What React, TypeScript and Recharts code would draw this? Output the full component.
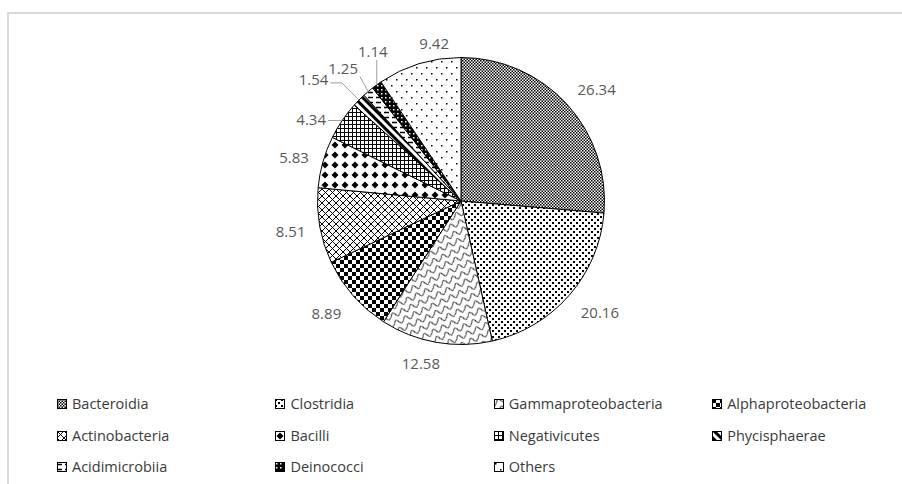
import React from 'react';
import { PieChart, Pie, Cell, Legend } from 'recharts';

const classes = [
  'Bacteroidia',
  'Clostridia',
  'Gammaproteobacteria',
  'Alphaproteobacteria',
  'Actinobacteria',
  'Bacilli',
  'Negativicutes',
  'Phycisphaerae',
  'Acidimicrobiia',
  'Deinococci',
  'Others',
];

const abundance = [26.34, 20.16, 12.58, 8.89, 8.51, 5.83, 4.34, 1.54, 1.25, 1.14, 9.42];

const data = classes.map((name, i) => ({ name, value: abundance[i] }));

const RAD = Math.PI / 180;
const LABEL_FONT = '"Open Sans", sans-serif';

// small angle / radius shifts so the outside labels sit like a best-fit layout
const labelShift: [number, number][] = [
  [3, 1.5], [-2.6, 3], [3.9, -8], [1.6, 0.5], [0, -1.5], [-1.2, -2],
  [-5.3, -3.5], [-5.1, 17], [-1.2, 3.5], [5.5, -0.5], [7.3, -14.5],
];

// theta measured clockwise from 12 o'clock
const polar = (cx: number, cy: number, r: number, theta: number) => ({
  x: cx + r * Math.sin(theta * RAD),
  y: cy - r * Math.cos(theta * RAD),
});

const textWidth = (s: string) =>
  s.split('').reduce((w, ch) => w + (ch === '.' ? 4 : 8.58), 0);

const renderLabel = (props: any) => {
  const { cx, cy, midAngle, outerRadius, index, value, percent } = props;
  const theta = 90 - midAngle;
  const [da, dr] = labelShift[index] || [0, 0];
  const p = polar(cx, cy, outerRadius + 31 + dr, theta + da);
  const text = Number(value).toFixed(2);

  let leader: React.ReactNode = null;
  if (percent < 0.05) {
    const e = polar(cx, cy, outerRadius, theta);
    const w = textWidth(text);
    const left = p.x - w / 2 - 2;
    const right = p.x + w / 2 + 2;
    const top = p.y - 9;
    const bottom = p.y + 9;
    let pts: { x: number; y: number }[];
    if (e.y >= top && e.y <= bottom) {
      pts = [{ x: e.x > p.x ? right : left, y: e.y }, e];
    } else if (e.x >= left && e.x <= right) {
      pts = [{ x: e.x, y: e.y > p.y ? bottom : top }, e];
    } else {
      const corner = { x: e.x > p.x ? right : left, y: e.y > p.y ? bottom : top };
      const dx = Math.abs(e.x - corner.x);
      const dy = Math.abs(e.y - corner.y);
      if (dx > dy) {
        const ey = p.y + 4;
        const elbow = { x: e.x - Math.sign(e.x - p.x) * Math.abs(e.y - ey), y: ey };
        pts = [{ x: corner.x, y: ey }, elbow, e];
      } else {
        pts = [corner, e];
      }
    }
    leader = (
      <polyline
        points={pts.map((q) => `${q.x},${q.y}`).join(' ')}
        fill="none"
        stroke="#a0a0a0"
        strokeWidth={1}
      />
    );
  }

  return (
    <g key={`lbl-${index}`}>
      {leader}
      <text
        x={p.x}
        y={p.y}
        textAnchor="middle"
        dominantBaseline="central"
        fill="#595959"
        fontFamily={LABEL_FONT}
        fontSize={15}
      >
        {text}
      </text>
    </g>
  );
};

// black & white fill patterns, one per class
const Patterns = () => (
  <svg width={0} height={0} style={{ position: 'absolute' }}>
    <defs>
      <pattern id="pat-0" width="3" height="3" patternUnits="userSpaceOnUse">
        <rect width="3" height="3" fill="#fff" />
        <rect width="1.5" height="1.5" fill="#000" />
        <rect x="1.5" y="1.5" width="1.5" height="1.5" fill="#000" />
      </pattern>
      <pattern id="pat-1" width="6" height="6" patternUnits="userSpaceOnUse">
        <rect width="6" height="6" fill="#fff" />
        <rect width="2" height="2" fill="#000" />
        <rect x="3" y="3" width="2" height="2" fill="#000" />
      </pattern>
      <pattern id="pat-2" width="10" height="8" patternUnits="userSpaceOnUse" patternTransform="rotate(-25)">
        <rect width="10" height="8" fill="#fff" />
        <path d="M0 5 C1.5 5 1.5 1.5 3.5 1.5 C5.5 1.5 5.5 6.5 7.5 6.5 C9 6.5 9 5 10 5" fill="none" stroke="#000" strokeWidth="1" />
      </pattern>
      <pattern id="pat-3" width="8" height="8" patternUnits="userSpaceOnUse">
        <rect width="8" height="8" fill="#fff" />
        <rect width="4" height="4" fill="#000" />
        <rect x="4" y="4" width="4" height="4" fill="#000" />
      </pattern>
      <pattern id="pat-4" width="7" height="7" patternUnits="userSpaceOnUse">
        <rect width="7" height="7" fill="#fff" />
        <path d="M0 0L7 7M7 0L0 7" stroke="#000" strokeWidth="1" />
      </pattern>
      <pattern id="pat-5" width="10" height="10" patternUnits="userSpaceOnUse">
        <rect width="10" height="10" fill="#fff" />
        <polygon points="5,1.5 8.5,5 5,8.5 1.5,5" fill="#000" />
      </pattern>
      <pattern id="pat-6" width="4" height="4" patternUnits="userSpaceOnUse">
        <rect width="4" height="4" fill="#fff" />
        <path d="M0 0.5H4M0.5 0V4" stroke="#000" strokeWidth="1" />
      </pattern>
      <pattern id="pat-7" width="6" height="6" patternUnits="userSpaceOnUse" patternTransform="rotate(-45)">
        <rect width="6" height="6" fill="#fff" />
        <rect width="3" height="6" fill="#000" />
      </pattern>
      <pattern id="pat-8" width="8" height="5" patternUnits="userSpaceOnUse">
        <rect width="8" height="5" fill="#fff" />
        <path d="M0 2.5H5" stroke="#000" strokeWidth="1.5" />
      </pattern>
      <pattern id="pat-9" width="4" height="4" patternUnits="userSpaceOnUse">
        <rect width="4" height="4" fill="#000" />
        <rect x="1" y="1" width="1.5" height="1.5" fill="#fff" />
      </pattern>
      <pattern id="pat-10" width="10" height="12" patternUnits="userSpaceOnUse">
        <rect width="10" height="12" fill="#fff" />
        <rect x="1" y="1" width="1.5" height="1.5" fill="#000" />
        <rect x="6" y="7" width="1.5" height="1.5" fill="#000" />
      </pattern>
    </defs>
  </svg>
);

const LegendGrid = () => (
  <div
    style={{
      display: 'grid',
      gridTemplateColumns: 'repeat(4, 218.4px)',
      gridAutoRows: '31.75px',
      fontFamily: LABEL_FONT,
      fontSize: 14.5,
      color: '#3a3a3a',
    }}
  >
    {classes.map((name, i) => (
      <div key={name} style={{ display: 'flex', alignItems: 'center', whiteSpace: 'nowrap' }}>
        <svg width={10} height={10} style={{ marginRight: 5, flex: 'none' }}>
          <rect x={0.5} y={0.5} width={9} height={9} fill={`url(#pat-${i})`} stroke="#000" strokeWidth={1} />
        </svg>
        <span style={{ lineHeight: '20px' }}>{name}</span>
      </div>
    ))}
  </div>
);

export default function App() {
  return (
    <div
      style={{
        position: 'fixed',
        left: 0,
        top: 0,
        width: 902,
        height: 484,
        overflow: 'hidden',
        background: '#fff',
      }}
    >
      <Patterns />
      <div
        style={{
          position: 'absolute',
          left: 7,
          top: 12,
          width: 900,
          height: 480,
          borderTop: '2px solid #d9d9d9',
          borderLeft: '2px solid #d9d9d9',
        }}
      />
      <div style={{ position: 'absolute', left: 0, top: 0 }}>
        <PieChart width={902} height={484} margin={{ top: 0, right: 0, bottom: 0, left: 0 }}>
          <Pie
            data={data}
            dataKey="value"
            nameKey="name"
            cx={461}
            cy={201}
            outerRadius={143.5}
            startAngle={90}
            endAngle={-270}
            stroke="#000"
            strokeWidth={1}
            labelLine={false}
            label={renderLabel}
            isAnimationActive={false}
          >
            {data.map((d, i) => (
              <Cell key={d.name} fill={`url(#pat-${i})`} />
            ))}
          </Pie>
          <Legend
            content={() => <LegendGrid />}
            wrapperStyle={{ position: 'absolute', left: 57, top: 388, width: 880, height: 96, bottom: 'auto' }}
          />
        </PieChart>
      </div>
    </div>
  );
}
